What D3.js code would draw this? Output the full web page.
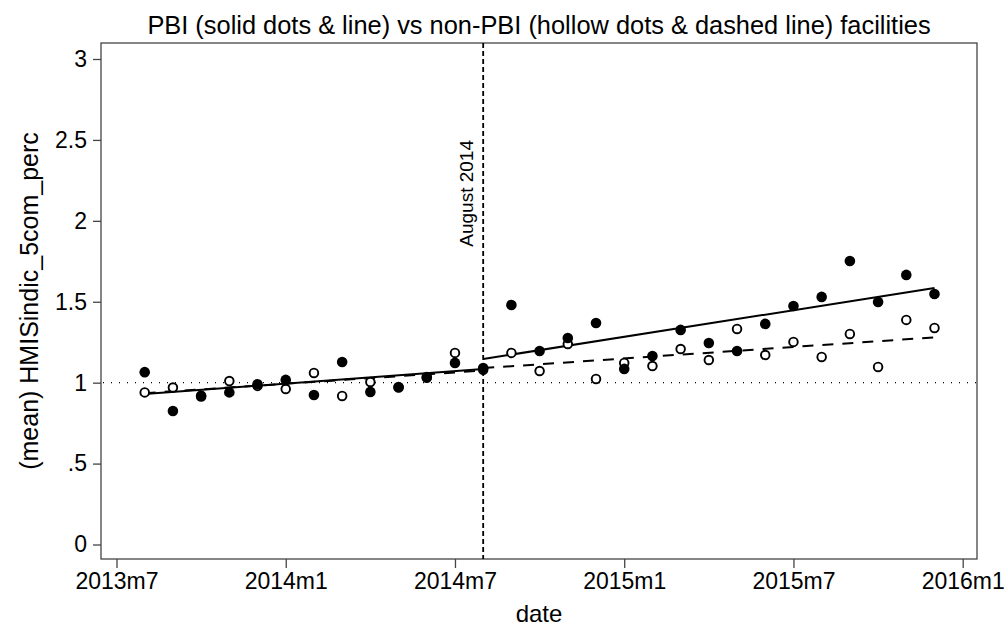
<!DOCTYPE html>
<html>
<head>
<meta charset="utf-8">
<script src="https://cdn.jsdelivr.net/npm/d3@7"></script>
<style>
  html, body { margin: 0; padding: 0; background: #fff; }
  text { font-family: "Liberation Sans", Arial, sans-serif; fill: #000; }
</style>
</head>
<body>
<script>
// months since 2013m7 (1 = 2013m8 ... 29 = 2015m12)
const months = [1,2,3,4,5,6,7,8,9,10,11,12,13,14,15,16,17,18,19,20,21,22,23,24,25,26,27,28,29];
const pbiValues = [1.065,0.825,0.915,0.94,0.99,1.017,0.924,1.128,0.943,0.973,1.035,1.122,1.091,
                   1.48,1.196,1.276,1.369,1.085,1.165,1.326,1.245,1.196,1.363,1.474,1.53,1.752,1.499,1.666,1.548];
const nonPbiValues = [0.94,0.97,0.92,1.01,0.98,0.961,1.06,0.918,1.004,0.97,1.03,1.184,1.08,
                      1.184,1.072,1.239,1.023,1.122,1.103,1.208,1.14,1.332,1.171,1.252,1.159,1.301,1.097,1.388,1.338];
// fitted lines (pre and post August 2014): [startMonth, startValue, endMonth, endValue]
const pbiFitPre = [1, 0.93, 13, 1.085];
const pbiFitPost = [13, 1.146, 29, 1.585];
const nonPbiFitPre = [1, 0.935, 13, 1.075];
const nonPbiFitPost = [13, 1.09, 29, 1.28];
const xTickValues = [0, 6, 12, 18, 24, 30];
const xTickLabels = ["2013m7", "2014m1", "2014m7", "2015m1", "2015m7", "2016m1"];
const yTickValues = [0, 0.5, 1, 1.5, 2, 2.5, 3];
const yTickLabels = ["0", ".5", "1", "1.5", "2", "2.5", "3"];
const eventMonth = 13;
const eventLabel = "August 2014";
const referenceValue = 1;
const titleText = "PBI (solid dots & line) vs non-PBI (hollow dots & dashed line) facilities";
const xTitle = "date";
const yTitle = "(mean) HMISindic_5com_perc";

const W = 1004, H = 630;
const box = {left: 101, right: 977, top: 43, bottom: 559};
const FONT = "'Liberation Sans', Arial, sans-serif";

const svg = d3.select("body").append("svg").attr("width", W).attr("height", H);

const x = d3.scaleLinear().domain([0, 30]).range([116.5, 962.7]);
const y = d3.scaleLinear().domain([0, 3]).range([544.5, 59]);

// plot region box
svg.append("rect").attr("x", box.left).attr("y", box.top)
  .attr("width", box.right - box.left).attr("height", box.bottom - box.top)
  .attr("fill", "none").attr("stroke", "#444").attr("stroke-width", 1.3);

// x axis
const xAxis = d3.axisBottom(x).tickValues(xTickValues)
  .tickFormat((d, i) => xTickLabels[i]).tickSize(9).tickPadding(5);
const gx = svg.append("g").attr("transform", `translate(0,${box.bottom})`).call(xAxis);
gx.select(".domain").remove();
gx.selectAll(".tick line").attr("stroke", "#444").attr("stroke-width", 1.3);
gx.selectAll(".tick text").attr("font-size", 23).attr("fill", "#000").style("font-family", FONT);

// y axis
const yAxis = d3.axisLeft(y).tickValues(yTickValues)
  .tickFormat((d, i) => yTickLabels[i]).tickSize(8).tickPadding(6);
const gy = svg.append("g").attr("transform", `translate(${box.left},0)`).call(yAxis);
gy.select(".domain").remove();
gy.selectAll(".tick line").attr("stroke", "#444").attr("stroke-width", 1.3);
gy.selectAll(".tick text").attr("font-size", 23).attr("fill", "#000").style("font-family", FONT);

// reference line at 1
svg.append("line")
  .attr("x1", box.left + 2).attr("x2", box.right - 1)
  .attr("y1", y(referenceValue)).attr("y2", y(referenceValue))
  .attr("stroke", "#000").attr("stroke-width", 1.2).attr("stroke-dasharray", "1,7");

// vertical event line
svg.append("line")
  .attr("x1", x(eventMonth)).attr("x2", x(eventMonth))
  .attr("y1", box.top).attr("y2", box.bottom)
  .attr("stroke", "#000").attr("stroke-width", 1.8).attr("stroke-dasharray", "5,3");

svg.append("text")
  .attr("transform", `translate(${x(eventMonth) - 10},${140}) rotate(-90)`)
  .attr("text-anchor", "end").attr("font-size", 19)
  .text(eventLabel);

// fit lines
function fitLine(seg, dash) {
  svg.append("line")
    .attr("x1", x(seg[0])).attr("y1", y(seg[1]))
    .attr("x2", x(seg[2])).attr("y2", y(seg[3]))
    .attr("stroke", "#000").attr("stroke-width", 2)
    .attr("stroke-dasharray", dash);
}
fitLine(nonPbiFitPre, "11,9");
fitLine(nonPbiFitPost, "11,9");
fitLine(pbiFitPre, null);
fitLine(pbiFitPost, null);

// hollow dots (non-PBI)
svg.append("g").selectAll("circle").data(months).join("circle")
  .attr("cx", d => x(d)).attr("cy", (d, i) => y(nonPbiValues[i]))
  .attr("r", 4.3).attr("fill", "#fff").attr("stroke", "#000").attr("stroke-width", 1.9);

// solid dots (PBI)
svg.append("g").selectAll("circle").data(months).join("circle")
  .attr("cx", d => x(d)).attr("cy", (d, i) => y(pbiValues[i]))
  .attr("r", 5.3).attr("fill", "#000");

// titles
svg.append("text").attr("x", (box.left + box.right) / 2).attr("y", 34)
  .attr("text-anchor", "middle").attr("font-size", 25.4).text(titleText);
svg.append("text").attr("x", (box.left + box.right) / 2).attr("y", 622)
  .attr("text-anchor", "middle").attr("font-size", 24).text(xTitle);
svg.append("text")
  .attr("transform", `translate(38,${(box.top + box.bottom) / 2}) rotate(-90)`)
  .attr("text-anchor", "middle").attr("font-size", 25).text(yTitle);
</script>
</body>
</html>
